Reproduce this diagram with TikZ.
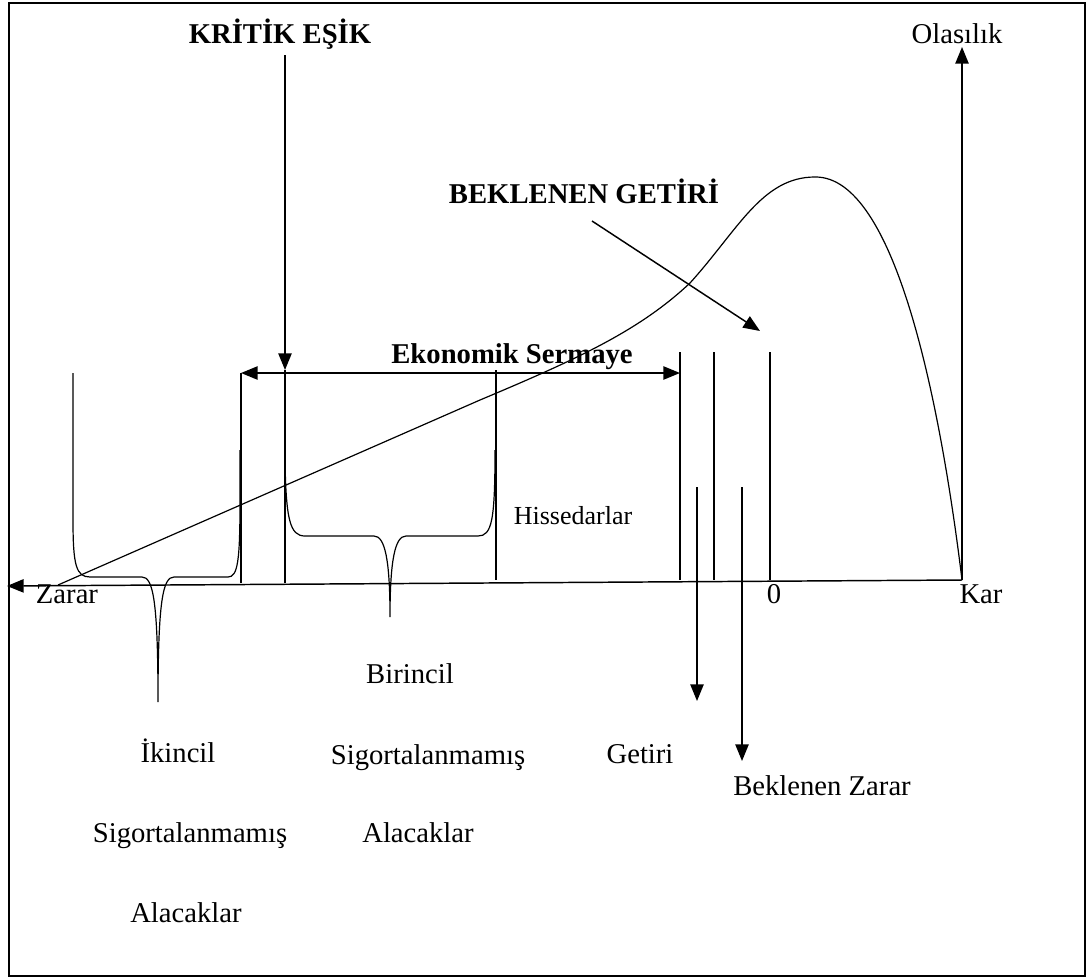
\documentclass[tikz,border=0pt]{standalone}
\usepackage{fontspec}
\setmainfont{Liberation Serif}
\usetikzlibrary{arrows.meta}
\begin{document}
\begin{tikzpicture}[x=0.75pt,y=-0.75pt,
  line/.style={line width=1.1pt},
  tip/.style={-{Triangle[length=12.5pt,width=10pt]}},
  bothtips/.style={{Triangle[length=12.5pt,width=10pt]}-{Triangle[length=12.5pt,width=10pt]}},
  lbl/.style={anchor=base,inner sep=0pt,font=\fontsize{21.5}{26}\selectfont},
  head/.style={anchor=base,inner sep=0pt,font=\fontsize{21.5}{26}\selectfont\bfseries}]
\useasboundingbox (0,0) rectangle (1087,978);
% frame
\draw[line width=1.4pt] (9,3) rectangle (1085,976);

% axes
\coordinate (kar) at (962,580);
\coordinate (left) at (7,586);
\coordinate (top) at (962,47);
\draw[line,tip] (kar) -- (left);
\draw[line,tip] (kar) -- (top);
\node[lbl] (olas) at (957,43) {Olasılık};
\node[lbl] (zarar) at (67,603) {Zarar};
\node[lbl] (zero) at (774,603) {0};
\node[lbl] (karl) at (981,603) {Kar};

% probability curve
\draw[line width=0.9pt] (58,585) -- (480,400)
  .. controls (580,358) and (640,330) .. (690,283)
  .. controls (738,230) and (762,177) .. (815,177)
  .. controls (895,176) and (940,400) .. (kar);

% critical threshold
\node[head] (kritik) at (280,43) {KRİTİK EŞİK};
\coordinate (k0) at (285,55);
\coordinate (k1) at (285,370);
\coordinate (k2) at (285,583);
\draw[line,tip] (k0) -- (k1);
\draw[line] (k1) -- (k2);

% economic capital
\coordinate (e0) at (241,373);
\coordinate (e1) at (680,373);
\draw[line,bothtips] (e0) -- (e1);
\node[head] (ekon) at (512,363) {Ekonomik Sermaye};
\draw[line] (e0) -- (241,583);
\draw[line] (680,352) -- (680,580);
\draw[line] (714,352) -- (714,580);
\draw[line] (770,352) -- (770,580);
\draw[line] (496,370) -- (496,580);

% expected return
\node[head] (beklenen) at (584,203) {BEKLENEN GETİRİ};
\coordinate (b0) at (592,221);
\coordinate (b1) at (760,331);
\draw[line,tip] (b0) -- (b1);

% downward arrows
\coordinate (g0) at (697,487);
\coordinate (g1) at (697,701);
\coordinate (z0) at (742,487);
\coordinate (z1) at (742,761);
\draw[line,tip] (g0) -- (g1);
\draw[line,tip] (z0) -- (z1);

% secondary brace
\draw[line width=0.9pt] (73,373) -- (73,520)
  .. controls (73,565) and (76,577) .. (90,577) -- (142,577)
  .. controls (153,577) and (158,600) .. (158,702)
  .. controls (158,600) and (163,577) .. (174,577) -- (228,577)
  .. controls (238,577) and (240,560) .. (240,500) -- (240,450);

% primary brace
\draw[line width=0.9pt] (285,460)
  .. controls (286,520) and (290,536) .. (305,536) -- (374,536)
  .. controls (385,536) and (390,560) .. (390,617)
  .. controls (390,560) and (395,536) .. (406,536) -- (478,536)
  .. controls (492,536) and (495,520) .. (495,450);

% labels
\node[lbl,font=\fontsize{19.5}{24}\selectfont] (hisse) at (573,524) {Hissedarlar};
\node[lbl] (bir) at (410,683) {Birincil};
\node[lbl] (sig1) at (428,764) {Sigortalanmamış};
\node[lbl] (ala1) at (418,842) {Alacaklar};
\node[lbl] (ikin) at (178,762) {İkincil};
\node[lbl] (sig2) at (190,842) {Sigortalanmamış};
\node[lbl] (ala2) at (186,922) {Alacaklar};
\node[lbl] (getiri) at (640,763) {Getiri};
\node[lbl] (bzarar) at (822,795) {Beklenen Zarar};
\end{tikzpicture}
\end{document}
